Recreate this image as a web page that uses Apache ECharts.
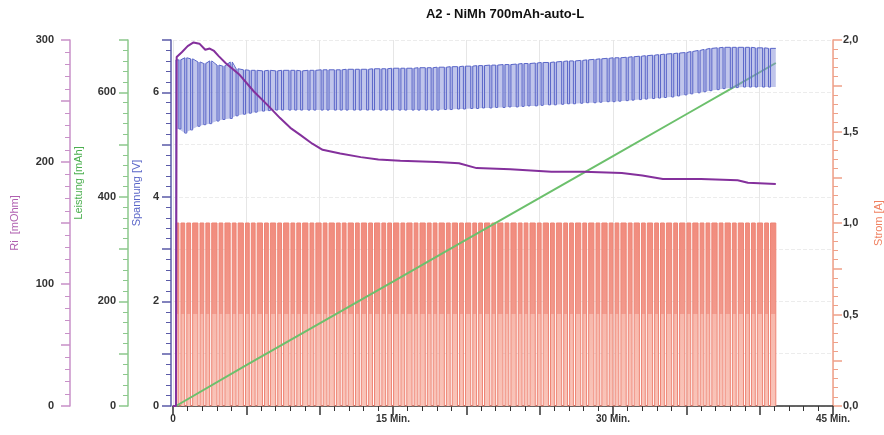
<!DOCTYPE html>
<html><head><meta charset="utf-8">
<script src="https://cdn.jsdelivr.net/npm/echarts@6/dist/echarts.min.js"></script>
<style>html,body{margin:0;padding:0;background:#fff}#c{width:884px;height:435px}</style>
</head><body><div id="c"></div>
<script>
// ---- data ----
const chartTitle = 'A2 - NiMh 700mAh-auto-L';
const xTickLabels = {0: '0', 15: '15 Min.', 30: '30 Min.', 45: '45 Min.'};

// charge pulse pauses (minutes)
const pulseT = [0.4,0.8,1.2,1.7,2.1,2.5,3.0,3.4,3.9,4.3,
  4.8,5.2,5.6,6.1,6.5,7.0,7.4,7.9,8.3,8.7,
  9.2,9.6,10.1,10.5,11.0,11.4,11.8,12.3,12.7,13.2,
  13.6,14.1,14.5,14.9,15.4,15.8,16.3,16.7,17.2,17.6,
  18.0,18.5,18.9,19.4,19.8,20.3,20.7,21.1,21.6,22.0,
  22.5,22.9,23.4,23.8,24.2,24.7,25.1,25.6,26.0,26.5,
  26.9,27.3,27.8,28.2,28.7,29.1,29.6,30.0,30.4,30.9,
  31.3,31.8,32.2,32.7,33.1,33.5,34.0,34.4,34.9,35.3,
  35.8,36.2,36.6,37.1,37.5,38.0,38.4,38.9,39.3,39.7,
  40.2,40.6];
// voltage at each pulse: peak (current on) and dip (current off), V
const vPeak = [6.62,6.66,6.64,6.58,6.55,6.60,6.52,6.50,6.58,6.45,
  6.43,6.42,6.42,6.41,6.42,6.41,6.42,6.42,6.42,6.41,
  6.42,6.42,6.43,6.43,6.43,6.43,6.44,6.44,6.44,6.44,
  6.45,6.45,6.45,6.46,6.46,6.46,6.46,6.47,6.47,6.47,
  6.48,6.48,6.49,6.49,6.50,6.50,6.51,6.51,6.52,6.52,
  6.53,6.53,6.54,6.55,6.55,6.56,6.57,6.57,6.58,6.59,
  6.60,6.60,6.61,6.62,6.63,6.64,6.65,6.66,6.66,6.67,
  6.68,6.69,6.70,6.71,6.72,6.73,6.74,6.75,6.76,6.78,
  6.80,6.82,6.84,6.85,6.86,6.86,6.86,6.86,6.86,6.85,
  6.85,6.84];
const vDip = [5.30,5.22,5.28,5.35,5.38,5.40,5.45,5.48,5.50,5.55,
  5.58,5.60,5.62,5.64,5.65,5.66,5.66,5.66,5.66,5.66,
  5.66,5.66,5.66,5.66,5.66,5.66,5.66,5.66,5.66,5.66,
  5.66,5.66,5.66,5.66,5.66,5.66,5.66,5.66,5.66,5.66,
  5.66,5.67,5.67,5.68,5.68,5.69,5.69,5.70,5.70,5.71,
  5.71,5.72,5.72,5.73,5.74,5.74,5.75,5.76,5.76,5.77,
  5.78,5.78,5.79,5.80,5.80,5.81,5.82,5.82,5.83,5.84,
  5.85,5.86,5.87,5.88,5.89,5.90,5.91,5.93,5.95,5.97,
  5.99,6.01,6.03,6.05,6.07,6.08,6.09,6.10,6.10,6.10,
  6.10,6.10];
const pulseOff = 0.14;      // pause length, min
const currentOn = 1.0;      // A
const chargeStart = 0.2;    // min
const chargeEnd = 41.1;     // min
const vEnd = 6.84;          // V

// internal resistance [mOhm] (time, value)
const riData = [[0,0],[0.2,0],[0.25,286],[0.6,290],[1.0,295],[1.4,298],[1.8,297],[2.2,292],
  [2.5,293],[2.8,291],[3.1,287],[3.6,281],[4.5,272],[5.5,258],[6.5,246],[7.3,236],[8.0,228],
  [8.7,222],[9.5,215],[10.2,210],[11.4,207],[12.8,204],[14,202],[15.5,201],[18,200],[19.5,199],
  [20.7,195],[23,194],[25.8,192],[28,192],[30.6,191],[32,189],[33.4,186],[36,186],[38.5,185],
  [39.2,183],[41.1,182]];
// charged capacity [mAh] (time, value)
const capData = [[0.2,0],[5,78],[10,158],[15,238],[20,318],[25,398],[30,478],[35,558],[38,606],[41.1,656]];

// ---- series construction ----
const currentPts = [[0,0],[chargeStart,0],[chargeStart,currentOn]];
const voltPts = [[0,0],[chargeStart,0],[chargeStart,vPeak[0]]];
pulseT.forEach((t,i)=>{
  currentPts.push([t,currentOn],[t,0],[t+pulseOff,0],[t+pulseOff,currentOn]);
  voltPts.push([t,vPeak[i]],[t,vDip[i]],[t+pulseOff,vDip[i]],[t+pulseOff,vPeak[i]]);
});
currentPts.push([chargeEnd,currentOn],[chargeEnd,0]);
voltPts.push([chargeEnd,vEnd]);

const font = 'Liberation Sans, Arial, sans-serif';
const lab = {color:'#333', fontSize:11, fontFamily:font, fontWeight:'bold'};

function yAx(o){
  return Object.assign({
    type:'value', position:'left', min:0,
    axisLine:{show:true, onZero:false, lineStyle:{color:o.c, width:1.5}},
    axisTick:{show:true, length:9, lineStyle:{color:o.c, width:1.5}},
    minorTick:{show:true, splitNumber:5, length:5, lineStyle:{color:o.c, width:1}},
    splitLine:{show:false},
    nameLocation:'middle', nameRotate:90,
    nameTextStyle:{color:o.nc, fontSize:11, fontFamily:font}
  }, o.x);
}

const option = {
  animation:false,
  backgroundColor:'#fff',
  title:{text:chartTitle, left:500, top:3, textAlign:'center',
    textStyle:{fontSize:13, fontWeight:'bold', color:'#111', fontFamily:font}},
  grid:{left:173, right:51, top:40, bottom:29, containLabel:false, outerBoundsMode:'none'},
  xAxis:{type:'value', min:0, max:45, interval:5,
    axisLine:{lineStyle:{color:'#333', width:1.5}},
    axisTick:{length:9, lineStyle:{color:'#333', width:1.5}},
    minorTick:{show:true, splitNumber:5, length:5, lineStyle:{color:'#333'}},
    splitLine:{show:true, lineStyle:{color:'#e6e6e6', width:1}},
    axisLabel:Object.assign({}, lab, {margin:8, fontSize:10, formatter:v=>xTickLabels[v]!==undefined?xTickLabels[v]:''})},
  yAxis:[
    yAx({c:'#5a5aa8', nc:'#5a66c8', x:{name:'Spannung [V]', max:7, interval:1, offset:2, nameGap:28,
      nameTextStyle:{color:'#5a66c8', fontSize:11, fontFamily:font, padding:[0,0,0,60]},
      splitLine:{show:true, lineStyle:{color:'#ececec', type:'dashed'}},
      axisLabel:Object.assign({}, lab, {margin:12, formatter:v=>v%2===0?String(v):''})}}),
    yAx({c:'#8cc88c', nc:'#4caf50', x:{name:'Leistung [mAh]', max:700, interval:100, offset:45, nameGap:44,
      nameTextStyle:{color:'#4caf50', fontSize:11, fontFamily:font, padding:[0,0,0,80]},
      axisLabel:Object.assign({}, lab, {margin:12, formatter:v=>v%200===0?String(v):''})}}),
    yAx({c:'#c890c8', nc:'#b060b0', x:{name:'Ri  [mOhm]', max:300, interval:50, offset:103, nameGap:50,
      axisLabel:Object.assign({}, lab, {margin:16, formatter:v=>v%100===0?String(v):''})}}),
    yAx({c:'#f0a088', nc:'#f08060', x:{name:'Strom [A]', position:'right', max:2, interval:0.25, offset:0, nameGap:40,
      axisLabel:Object.assign({}, lab, {margin:10, formatter:v=>(Math.abs(v*2-Math.round(v*2))<1e-9)?v.toFixed(1).replace('.',','):''})}})
  ],
  series:[
    {name:'Strom', type:'line', yAxisIndex:3, data:currentPts, symbol:'none', z:1,
      lineStyle:{color:'#ee8474', width:1},
      areaStyle:{opacity:1, color:new echarts.graphic.LinearGradient(0,0,0,1,[
        {offset:0,color:'#f18c7e'},{offset:0.5,color:'#f29a8d'},
        {offset:0.5,color:'#f7b8ac'},{offset:1,color:'#f9c4b9'}])}},
    {name:'Leistung', type:'line', yAxisIndex:1, data:capData, symbol:'none', z:2,
      lineStyle:{color:'#6cc06c', width:2}},
    {name:'Band', type:'custom', yAxisIndex:0, data:[[0,0]], z:3, silent:true,
      renderItem:function(params, api){
        const pts=[];
        pts.push(api.coord([chargeStart, vPeak[0]]));
        pulseT.forEach((t,i)=>pts.push(api.coord([t, vPeak[i]])));
        pts.push(api.coord([chargeEnd, vEnd]));
        pts.push(api.coord([chargeEnd, vDip[vDip.length-1]]));
        for(let i=pulseT.length-1;i>=0;i--) pts.push(api.coord([pulseT[i], vDip[i]]));
        pts.push(api.coord([chargeStart, vDip[0]]));
        return {type:'polygon', shape:{points:pts}, style:{fill:'rgba(130,140,215,0.5)', stroke:null}};
      }},
    {name:'Spannung', type:'line', yAxisIndex:0, data:voltPts, symbol:'none', z:4,
      lineStyle:{color:'#5a66c8', width:1}},
    {name:'Ri', type:'line', yAxisIndex:2, data:riData, symbol:'none', z:5,
      lineStyle:{color:'#84309c', width:2}}
  ]
};
echarts.init(document.getElementById('c'), null, {renderer:'canvas'}).setOption(option);
</script></body></html>
